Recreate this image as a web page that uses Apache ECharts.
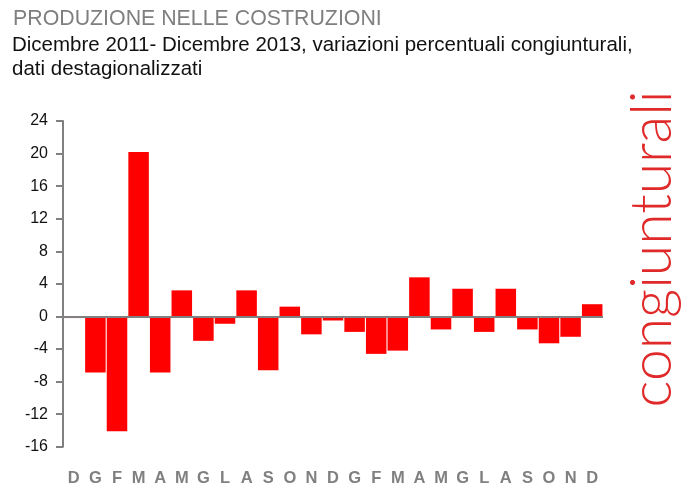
<!DOCTYPE html>
<html>
<head>
<meta charset="utf-8">
<script src="https://cdn.jsdelivr.net/npm/echarts@6/dist/echarts.min.js"></script>
<style>
html,body{margin:0;padding:0;background:#fff;}
#chart{width:696px;height:503px;}
</style>
</head>
<body>
<div id="chart"></div>
<script>
var months = ['D','G','F','M','A','M','G','L','A','S','O','N','D','G','F','M','A','M','G','L','A','S','O','N','D'];
var variazioni = [-0.2, -6.9, -14.1, 20.2, -6.9, 3.2, -3.0, -0.9, 3.2, -6.6, 1.2, -2.2, -0.5, -1.9, -4.6, -4.2, 4.8, -1.6, 3.4, -1.9, 3.4, -1.6, -3.3, -2.5, 1.5];
var titleText = 'PRODUZIONE NELLE COSTRUZIONI';
var subtitleLine1 = 'Dicembre 2011- Dicembre 2013, variazioni percentuali congiunturali,';
var subtitleLine2 = 'dati destagionalizzati';
var sideLabel = 'congiunturali';

var FONT = 'Liberation Sans, Arial, sans-serif';
var chart = echarts.init(document.getElementById('chart'), null, {renderer: 'canvas'});
chart.setOption({
  animation: false,
  backgroundColor: '#ffffff',
  graphic: [
    {
      type: 'text', x: 13, y: 19.1, scaleX: 0.97,
      style: {text: titleText, fontFamily: FONT, fontSize: 22, fill: '#7f7f7f', textAlign: 'left', textVerticalAlign: 'middle'}
    },
    {
      type: 'text', x: 12, y: 45.2,
      style: {text: subtitleLine1, fontFamily: FONT, fontSize: 20.5, fill: '#111111', textAlign: 'left', textVerticalAlign: 'middle'}
    },
    {
      type: 'text', x: 12, y: 69.6,
      style: {text: subtitleLine2, fontFamily: FONT, fontSize: 20.5, fill: '#111111', textAlign: 'left', textVerticalAlign: 'middle'}
    },
    {
      type: 'text', x: 653, y: 249,
      rotation: Math.PI / 2,
      style: {
        text: sideLabel,
        fontFamily: 'Lato, Liberation Sans, sans-serif',
        fontWeight: 300,
        fontSize: 57,
        fill: '#e02a2a',
        textAlign: 'center',
        textVerticalAlign: 'middle'
      }
    }
  ],
  grid: {left: 63, right: 93, top: 121, bottom: 56.3},
  xAxis: {
    type: 'category',
    data: months,
    axisLine: {show: false, onZero: false},
    axisTick: {show: false},
    axisLabel: {interval: 0, margin: 23, fontFamily: FONT, fontSize: 16.5, fontWeight: 'bold', color: '#808080'},
    splitLine: {show: false}
  },
  yAxis: {
    type: 'value',
    min: -16, max: 24, interval: 4,
    axisLine: {show: true, lineStyle: {color: '#808080', width: 2}},
    axisTick: {show: true, inside: false, length: 7, lineStyle: {color: '#808080', width: 2}},
    axisLabel: {margin: 15, fontFamily: FONT, fontSize: 16, color: '#111111'},
    splitLine: {show: false}
  },
  series: [{
    type: 'bar',
    data: variazioni,
    barCategoryGap: '5%',
    itemStyle: {color: '#ff0000'},
    markLine: {
      silent: true,
      symbol: 'none',
      label: {show: false},
      lineStyle: {color: '#808080', width: 2, type: 'solid'},
      data: [{yAxis: 0}]
    }
  }]
});
</script>
</body>
</html>
